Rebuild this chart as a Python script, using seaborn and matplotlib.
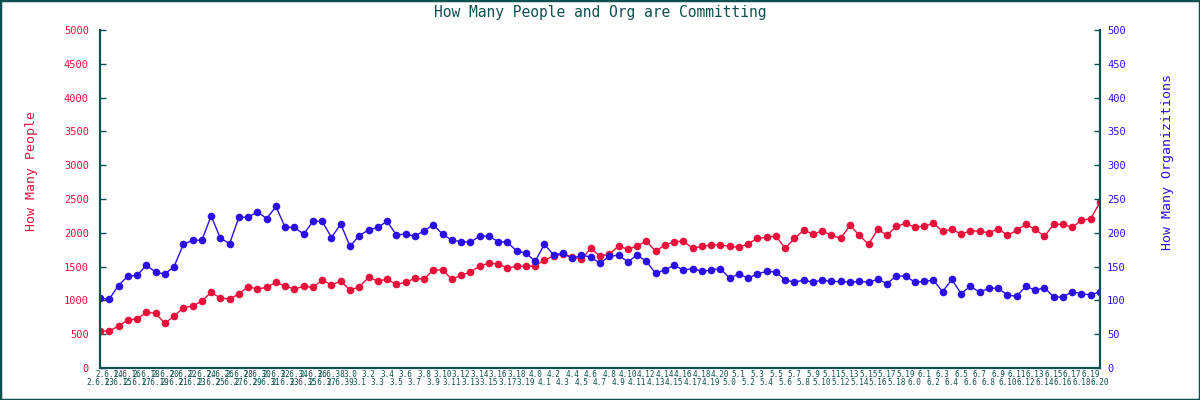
import pandas as pd
import matplotlib
matplotlib.use("Agg")
import matplotlib.pyplot as plt
from matplotlib.patches import Rectangle
import seaborn as sns

sns.set_theme(style="white")
plt.rcParams["font.family"] = ["DejaVu Sans Mono", "DejaVu Sans"]

TEAL = "#0e5050"
RED = "#e8113c"
BLUE = "#2b10e6"

# kernel versions on the x axis
versions = ([f"2.6.{i}" for i in range(13, 40)]
            + [f"3.{i}" for i in range(20)]
            + [f"4.{i}" for i in range(21)]
            + [f"5.{i}" for i in range(20)]
            + [f"6.{i}" for i in range(21)])

people = [
    547, 547, 621, 710, 725, 824, 809, 661, 769, 892,
    917, 991, 1119, 1035, 1020, 1095, 1203, 1169, 1193, 1267,
    1213, 1169, 1208, 1193, 1302, 1228, 1287, 1154, 1198, 1341,
    1287, 1312, 1238, 1267, 1326, 1316, 1450, 1450, 1312, 1371,
    1420, 1504, 1553, 1538, 1479, 1504, 1504, 1509, 1598, 1657,
    1681, 1647, 1608, 1770, 1657, 1681, 1805, 1756, 1805, 1879,
    1728, 1820, 1864, 1879, 1770, 1800, 1820, 1820, 1800, 1785,
    1839, 1918, 1933, 1953, 1770, 1918, 2036, 1982, 2027, 1963,
    1918, 2110, 1963, 1830, 2051, 1963, 2096, 2140, 2081, 2096,
    2140, 2022, 2051, 1982, 2027, 2027, 1997, 2061, 1963, 2036,
    2125, 2051, 1948, 2125, 2125, 2081, 2184, 2209, 2451,
]

orgs = [
    103, 102, 122, 136, 137, 152, 142, 139, 150, 183,
    189, 189, 225, 192, 184, 223, 223, 231, 221, 239,
    208, 208, 198, 217, 217, 193, 213, 180, 196, 204,
    208, 217, 197, 198, 195, 203, 212, 198, 189, 187,
    186, 195, 195, 187, 186, 173, 170, 158, 183, 167,
    170, 162, 167, 164, 155, 165, 167, 157, 167, 158,
    140, 145, 152, 145, 147, 143, 145, 147, 133, 139,
    133, 139, 143, 142, 130, 127, 130, 127, 130, 128,
    128, 127, 128, 127, 131, 125, 136, 136, 127, 128,
    130, 113, 131, 110, 121, 112, 118, 118, 108, 106,
    121, 115, 119, 105, 105, 113, 110, 108, 113,
]

df = pd.DataFrame({"idx": range(len(versions)), "version": versions,
                   "people": people, "orgs": orgs})

fig = plt.figure(figsize=(12, 4), dpi=100)
fig.patch.set_facecolor("white")
ax = fig.add_axes([100 / 1200, 32 / 400, 1000 / 1200, 338 / 400])
ax2 = ax.twinx()

sns.lineplot(data=df, x="idx", y="people", ax=ax, color=RED, lw=1,
             marker="o", markersize=5.5, markeredgewidth=0)
sns.lineplot(data=df, x="idx", y="orgs", ax=ax2, color=BLUE, lw=1,
             marker="o", markersize=5.5, markeredgewidth=0)

ax.set_xlim(0, len(versions) - 1)
ax.set_ylim(0, 5000)
ax2.set_ylim(0, 500)
ax.set_yticks(range(0, 5001, 500))
ax2.set_yticks(range(0, 501, 50))

# alternating two rows of version labels, like the original
even = df["idx"][::2]
odd = df["idx"][1::2]
ax.set_xticks(even, df["version"][::2])
ax.set_xticks(odd, df["version"][1::2], minor=True)
ax.tick_params(axis="x", which="major", direction="in", length=4, width=1,
               color=TEAL, labelcolor=TEAL, labelsize=5.5, pad=7)
ax.tick_params(axis="x", which="minor", direction="in", length=4, width=1,
               color=TEAL, labelcolor=TEAL, labelsize=5.5, pad=1.5)
ax.tick_params(axis="y", direction="in", length=4, width=1, color=TEAL,
               labelcolor=RED, labelsize=7.5, pad=8, left=True)
ax2.tick_params(axis="y", direction="in", length=4, width=1, color=TEAL,
                labelcolor=BLUE, labelsize=7.5, pad=5, right=True)

for a in (ax, ax2):
    a.grid(False)
    a.set_facecolor("none")
    a.spines["top"].set_visible(False)
    for s in ("left", "right", "bottom"):
        a.spines[s].set_color(TEAL)
        a.spines[s].set_linewidth(1.5)

ax.set_xlabel("")
ax.set_ylabel("How Many People", color=RED, fontsize=9.5)
ax.yaxis.set_label_coords(-0.062, (368 - 171) / 338)
ax2.set_ylabel("How Many Organizitions", color=BLUE, fontsize=9.5,
               rotation=90, va="center")
ax2.yaxis.set_label_coords(1.068, (368 - 162) / 338)

fig.text(0.5, 1 - 13 / 400, "How Many People and Org are Committing",
         ha="center", va="center", color=TEAL, fontsize=10.5)

fig.patches.append(Rectangle((0, 0), 1, 1, transform=fig.transFigure,
                             fill=False, edgecolor=TEAL, lw=2.5))

fig.savefig("out.png", dpi=100)
